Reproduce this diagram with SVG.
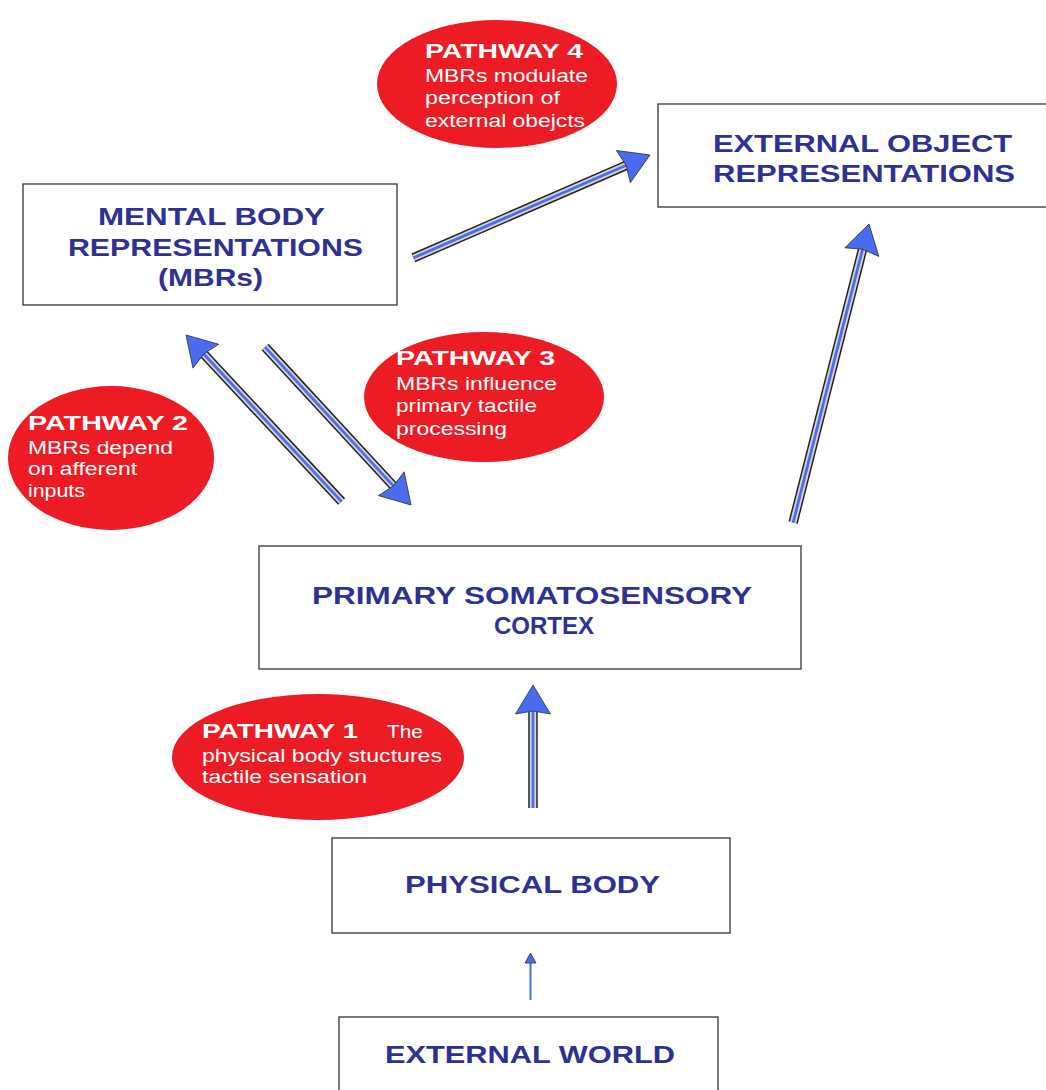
<svg xmlns="http://www.w3.org/2000/svg" xmlns:xlink="http://www.w3.org/1999/xlink" width="1046" height="1090" viewBox="0 0 1046 1090">
<style>
.box{fill:#fff;stroke:#333;stroke-width:1.3}
.bt{font-family:"Liberation Sans",Arial,sans-serif;font-weight:bold;font-size:24px;fill:#2E3192}
.ell{fill:#ED1C24}
.ph{font-family:"Liberation Sans",Arial,sans-serif;font-weight:bold;font-size:20px;fill:#fff}
.pt{font-family:"Liberation Sans",Arial,sans-serif;font-size:18px;fill:#fff}
.s1{stroke:#222;stroke-width:9.5;fill:none}
.s2{stroke:#d4d4d4;stroke-width:6.5;fill:none}
.s3{stroke:#4A6CF0;stroke-width:2.8;fill:none}
.hd{fill:#4A6CF0;stroke:#333;stroke-width:0.8;stroke-linejoin:miter}
</style>
<defs>
<polygon id="head" class="hd" points="0,0 -29,-17.5 -26,0 -29,17.5"/>
</defs>
<rect width="1046" height="1090" fill="#fff"/>

<g id="connectors">
  <g id="mbr-to-eor" transform="translate(650,155) rotate(-23.5)">
    <line class="s1" x1="-258" y1="0" x2="-24" y2="0"/>
    <line class="s2" x1="-258" y1="0" x2="-24" y2="0"/>
    <line class="s3" x1="-258" y1="0" x2="-24" y2="0"/>
    <use xlink:href="#head"/>
  </g>
  <g id="psc-to-mbr" transform="translate(186,335) rotate(-133.05)">
    <line class="s1" x1="-228" y1="0" x2="-24" y2="0"/>
    <line class="s2" x1="-228" y1="0" x2="-24" y2="0"/>
    <line class="s3" x1="-228" y1="0" x2="-24" y2="0"/>
    <use xlink:href="#head"/>
  </g>
  <g id="mbr-to-psc" transform="translate(411,505) rotate(47.26)">
    <line class="s1" x1="-215" y1="0" x2="-24" y2="0"/>
    <line class="s2" x1="-215" y1="0" x2="-24" y2="0"/>
    <line class="s3" x1="-215" y1="0" x2="-24" y2="0"/>
    <use xlink:href="#head"/>
  </g>
  <g id="psc-to-eor" transform="translate(869,224) rotate(-75.74)">
    <line class="s1" x1="-308" y1="0" x2="-24" y2="0"/>
    <line class="s2" x1="-308" y1="0" x2="-24" y2="0"/>
    <line class="s3" x1="-308" y1="0" x2="-24" y2="0"/>
    <use xlink:href="#head"/>
  </g>
  <g id="body-to-psc" transform="translate(533,685) rotate(-90)">
    <line class="s1" x1="-123" y1="0" x2="-24" y2="0"/>
    <line class="s2" x1="-123" y1="0" x2="-24" y2="0"/>
    <line class="s3" x1="-123" y1="0" x2="-24" y2="0"/>
    <use xlink:href="#head"/>
  </g>
  <g id="world-to-body">
    <line x1="530.5" y1="1000" x2="530.5" y2="962" stroke="#4A6CF0" stroke-width="2"/>
    <polygon class="hd" points="530.5,953 525,963 536,963"/>
  </g>
</g>

<g id="mbr">
  <rect class="box" x="23" y="184" width="374" height="121"/>
  <text class="bt" x="98" y="225" textLength="227" lengthAdjust="spacingAndGlyphs">MENTAL BODY</text>
  <text class="bt" x="68" y="256" textLength="295" lengthAdjust="spacingAndGlyphs">REPRESENTATIONS</text>
  <text class="bt" x="158" y="286" textLength="105" lengthAdjust="spacingAndGlyphs">(MBRs)</text>
</g>

<g id="eor">
  <rect class="box" x="658" y="104" width="400" height="103"/>
  <text class="bt" x="713" y="152" textLength="299" lengthAdjust="spacingAndGlyphs">EXTERNAL OBJECT</text>
  <text class="bt" x="713" y="182" textLength="302" lengthAdjust="spacingAndGlyphs">REPRESENTATIONS</text>
</g>

<g id="psc">
  <rect class="box" x="259" y="546" width="542" height="123"/>
  <text class="bt" x="312" y="604" textLength="440" lengthAdjust="spacingAndGlyphs">PRIMARY SOMATOSENSORY</text>
  <text class="bt" x="494" y="634" textLength="100" lengthAdjust="spacingAndGlyphs">CORTEX</text>
</g>

<g id="physical-body">
  <rect class="box" x="332" y="838" width="398" height="95"/>
  <text class="bt" x="405" y="893" textLength="255" lengthAdjust="spacingAndGlyphs">PHYSICAL BODY</text>
</g>

<g id="external-world">
  <rect class="box" x="339" y="1017" width="379" height="80"/>
  <text class="bt" x="385" y="1063" textLength="290" lengthAdjust="spacingAndGlyphs">EXTERNAL WORLD</text>
</g>

<g id="pathway4">
  <ellipse class="ell" cx="497" cy="84" rx="120" ry="64"/>
  <text class="ph" x="425" y="58" textLength="158" lengthAdjust="spacingAndGlyphs">PATHWAY 4</text>
  <text class="pt" x="425" y="82" textLength="163" lengthAdjust="spacingAndGlyphs">MBRs modulate</text>
  <text class="pt" x="425" y="104" textLength="135" lengthAdjust="spacingAndGlyphs">perception of</text>
  <text class="pt" x="425" y="127" textLength="160" lengthAdjust="spacingAndGlyphs">external obejcts</text>
</g>

<g id="pathway2">
  <ellipse class="ell" cx="111" cy="458" rx="103" ry="72"/>
  <text class="ph" x="28" y="430" textLength="160" lengthAdjust="spacingAndGlyphs">PATHWAY 2</text>
  <text class="pt" x="28" y="454" textLength="145" lengthAdjust="spacingAndGlyphs">MBRs depend</text>
  <text class="pt" x="28" y="475" textLength="109" lengthAdjust="spacingAndGlyphs">on afferent</text>
  <text class="pt" x="28" y="497" textLength="57" lengthAdjust="spacingAndGlyphs">inputs</text>
</g>

<g id="pathway3">
  <ellipse class="ell" cx="484" cy="397" rx="120" ry="65"/>
  <text class="ph" x="396" y="365" textLength="159" lengthAdjust="spacingAndGlyphs">PATHWAY 3</text>
  <text class="pt" x="396" y="390" textLength="161" lengthAdjust="spacingAndGlyphs">MBRs influence</text>
  <text class="pt" x="396" y="412" textLength="141" lengthAdjust="spacingAndGlyphs">primary tactile</text>
  <text class="pt" x="396" y="435" textLength="111" lengthAdjust="spacingAndGlyphs">processing</text>
</g>

<g id="pathway1">
  <ellipse class="ell" cx="318" cy="757" rx="146" ry="63"/>
  <text class="ph" x="202" y="738" textLength="156" lengthAdjust="spacingAndGlyphs">PATHWAY 1</text>
  <text class="pt" x="387" y="738" textLength="36" lengthAdjust="spacingAndGlyphs">The</text>
  <text class="pt" x="202" y="762" textLength="240" lengthAdjust="spacingAndGlyphs">physical body stuctures</text>
  <text class="pt" x="202" y="783" textLength="165" lengthAdjust="spacingAndGlyphs">tactile sensation</text>
</g>
</svg>
